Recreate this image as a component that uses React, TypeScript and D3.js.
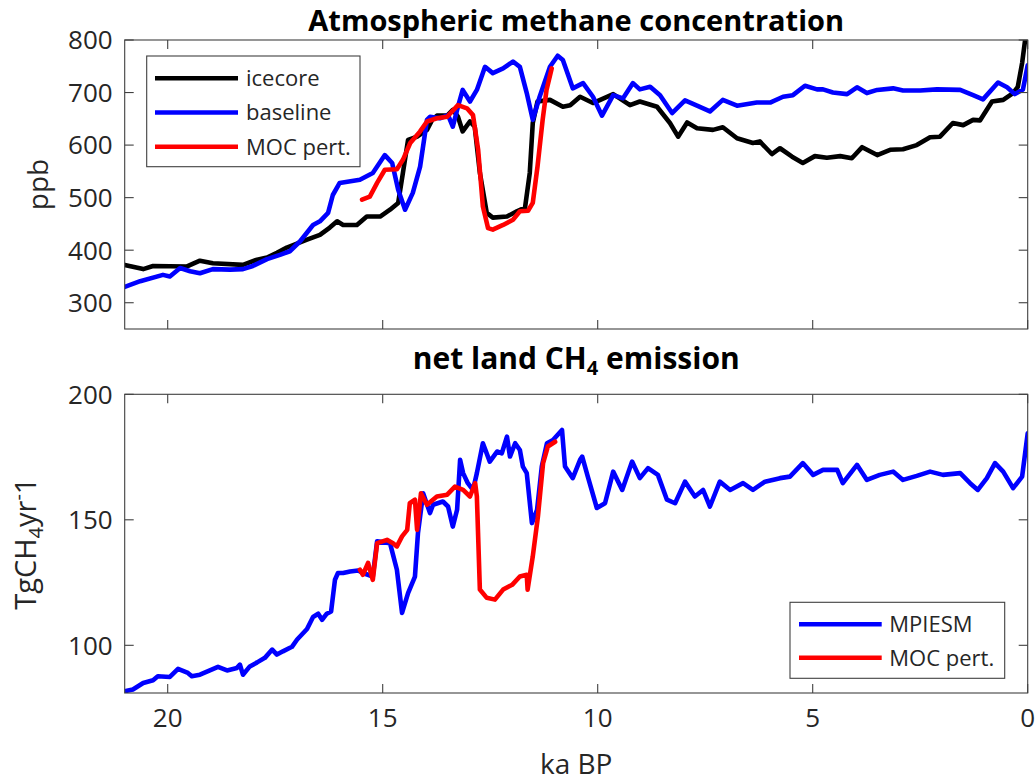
import React from 'react';
import * as d3 from 'd3';

// ---------- data (ka BP, values) ----------
const icecoreKa = [21.0, 20.57, 20.34, 19.55, 19.25, 18.95, 18.25, 17.92, 17.69, 17.46, 17.23, 16.76, 16.46, 16.23, 16.06, 15.92, 15.6, 15.37, 15.06, 14.83, 14.64, 14.53, 14.41, 14.2, 13.97, 13.85, 13.74, 13.5, 13.37, 13.25, 13.14, 12.97, 12.86, 12.74, 12.58, 12.44, 12.11, 11.88, 11.69, 11.58, 11.51, 11.4, 11.11, 10.81, 10.64, 10.41, 10.11, 9.64, 9.25, 9.02, 8.62, 8.32, 8.13, 7.92, 7.69, 7.32, 7.09, 6.76, 6.39, 6.23, 5.95, 5.76, 5.48, 5.23, 4.95, 4.67, 4.36, 4.09, 3.85, 3.5, 3.2, 2.9, 2.58, 2.27, 2.04, 1.74, 1.5, 1.27, 1.11, 0.83, 0.57, 0.34, 0.23, 0.13, 0.06, 0.0];
const icecorePpb = [372, 364, 370, 369, 380, 375, 372, 382, 386, 395, 405, 420, 429, 443, 455, 448, 448, 464, 464, 477, 490, 547, 610, 616, 629, 648, 656, 656, 667, 654, 626, 645, 635, 547, 471, 462, 464, 474, 481, 547, 642, 683, 686, 673, 676, 692, 680, 697, 676, 683, 673, 642, 616, 643, 632, 629, 634, 613, 604, 607, 583, 594, 578, 566, 579, 576, 579, 575, 596, 581, 591, 592, 600, 615, 616, 642, 638, 648, 647, 683, 686, 699, 711, 756, 800, 850];

const baselineKa = [21.0, 20.64, 20.11, 19.95, 19.71, 19.48, 19.25, 18.95, 18.55, 18.25, 18.02, 17.69, 17.39, 17.16, 16.92, 16.62, 16.46, 16.27, 16.16, 16.0, 15.53, 15.23, 14.95, 14.78, 14.64, 14.48, 14.3, 14.13, 13.97, 13.9, 13.67, 13.48, 13.37, 13.25, 13.14, 12.97, 12.81, 12.62, 12.44, 12.2, 11.97, 11.81, 11.65, 11.51, 11.35, 11.11, 10.93, 10.81, 10.58, 10.34, 10.11, 9.9, 9.64, 9.41, 9.18, 9.02, 8.78, 8.55, 8.27, 7.97, 7.69, 7.39, 7.09, 6.76, 6.3, 5.99, 5.69, 5.46, 5.18, 4.9, 4.76, 4.53, 4.2, 3.97, 3.74, 3.5, 3.13, 2.9, 2.5, 2.11, 1.57, 1.27, 1.04, 0.69, 0.48, 0.3, 0.11, 0.0];
const baselinePpb = [330, 341, 353, 350, 366, 360, 356, 364, 363, 364, 370, 383, 391, 398, 417, 448, 455, 471, 505, 528, 534, 547, 581, 566, 515, 477, 509, 559, 648, 654, 651, 657, 635, 673, 705, 683, 705, 749, 737, 746, 759, 749, 699, 648, 692, 749, 770, 762, 708, 718, 692, 656, 695, 689, 718, 706, 711, 695, 661, 685, 675, 664, 686, 675, 681, 681, 692, 695, 713, 706, 706, 700, 697, 710, 699, 705, 708, 704, 704, 706, 705, 695, 687, 719, 710, 697, 706, 752];

const mocTopKa = [15.48, 15.3, 15.13, 14.95, 14.67, 14.53, 14.36, 14.13, 13.97, 13.74, 13.5, 13.25, 13.04, 12.9, 12.78, 12.67, 12.55, 12.44, 12.2, 11.97, 11.81, 11.62, 11.51, 11.4, 11.28, 11.19, 11.07];
const mocTopPpb = [496, 502, 528, 553, 554, 572, 604, 626, 645, 651, 654, 676, 670, 657, 591, 483, 442, 439, 448, 458, 474, 475, 490, 559, 648, 705, 746];

const mpiKa = [21.0, 20.81, 20.57, 20.34, 20.23, 19.95, 19.76, 19.53, 19.44, 19.25, 19.02, 18.83, 18.62, 18.39, 18.32, 18.25, 18.09, 17.92, 17.74, 17.57, 17.46, 17.32, 17.11, 16.99, 16.88, 16.76, 16.62, 16.5, 16.41, 16.3, 16.2, 16.11, 16.04, 15.92, 15.76, 15.57, 15.46, 15.23, 15.13, 14.83, 14.67, 14.55, 14.41, 14.25, 14.18, 14.06, 13.9, 13.83, 13.6, 13.48, 13.37, 13.27, 13.2, 13.13, 13.02, 12.9, 12.81, 12.67, 12.51, 12.34, 12.23, 12.11, 12.04, 11.92, 11.81, 11.74, 11.65, 11.53, 11.41, 11.3, 11.18, 11.04, 10.83, 10.76, 10.58, 10.41, 10.36, 10.23, 10.02, 9.83, 9.64, 9.43, 9.2, 9.02, 8.83, 8.6, 8.39, 8.2, 7.97, 7.74, 7.55, 7.39, 7.16, 6.92, 6.62, 6.39, 6.11, 5.76, 5.53, 5.23, 4.99, 4.76, 4.43, 4.3, 3.97, 3.74, 3.44, 3.13, 2.9, 2.58, 2.27, 1.97, 1.57, 1.34, 1.16, 0.95, 0.76, 0.57, 0.34, 0.13, 0.0];
const mpiVal = [81.7, 82.4, 85.0, 86.1, 87.7, 87.4, 90.6, 89.0, 87.7, 88.3, 90.0, 91.4, 90.0, 91.0, 92.3, 88.3, 91.6, 93.2, 95.0, 98.3, 96.3, 97.6, 99.4, 102.3, 104.3, 106.5, 111.3, 112.6, 110.2, 112.6, 113.5, 126.1, 128.8, 128.8, 129.4, 129.8, 128.8, 127.4, 141.4, 140.7, 130.1, 112.9, 120.8, 127.4, 144.7, 160.6, 152.7, 156.0, 157.3, 155.3, 147.3, 154.0, 173.9, 168.6, 164.6, 161.9, 168.6, 180.5, 173.2, 177.2, 176.5, 183.1, 175.2, 180.5, 177.8, 171.2, 168.6, 148.7, 154.0, 171.2, 180.5, 181.8, 185.8, 171.2, 166.6, 173.9, 175.2, 167.2, 154.7, 156.6, 169.2, 161.9, 173.2, 166.6, 170.6, 167.9, 158.0, 156.6, 165.2, 159.3, 161.9, 155.3, 165.2, 161.9, 164.6, 161.9, 165.2, 166.6, 167.2, 172.6, 167.9, 169.9, 169.9, 164.6, 171.9, 165.9, 167.9, 169.2, 165.9, 167.5, 169.2, 167.9, 168.6, 164.6, 161.9, 166.6, 172.6, 169.2, 162.6, 167.2, 184.5];

const mocBotKa = [15.53, 15.46, 15.34, 15.23, 15.13, 14.9, 14.76, 14.67, 14.55, 14.43, 14.37, 14.25, 14.2, 14.11, 13.97, 13.74, 13.5, 13.32, 13.13, 12.97, 12.85, 12.81, 12.74, 12.58, 12.39, 12.2, 11.99, 11.81, 11.65, 11.63, 11.51, 11.39, 11.27, 11.16, 10.99];
const mocBotVal = [130.1, 128.1, 132.8, 126.1, 140.7, 142.0, 140.7, 139.4, 143.4, 146.0, 156.6, 158.0, 146.0, 160.6, 156.0, 159.3, 160.0, 163.2, 161.9, 159.3, 164.6, 159.3, 122.2, 118.9, 118.2, 122.2, 124.1, 127.4, 128.1, 122.2, 135.4, 151.3, 172.6, 179.2, 181.1];

const xTicks = [20, 15, 10, 5, 0];
const topYTicks = [300, 400, 500, 600, 700, 800];
const botYTicks = [100, 150, 200];
const topLegend = ['icecore', 'baseline', 'MOC pert.'];
const botLegend = ['MPIESM', 'MOC pert.'];

const FONT = '"Open Sans", "Noto Sans", sans-serif';
const TXT = '#262626';
const AX = '#404040';

export default function App() {
  const W = 1035, H = 783;
  const L = 124.7, R = 1027.7;
  const topP = { t: 40, b: 329 };
  const botP = { t: 394.3, b: 693 };
  const x = d3.scaleLinear().domain([21, 0]).range([L, R]);
  const yT = d3.scaleLinear().domain([250, 800]).range([topP.b, topP.t]);
  const yB = d3.scaleLinear().domain([81, 200]).range([botP.b, botP.t]);

  const mk = (xs: number[], ys: number[], y: d3.ScaleLinear<number, number>) =>
    d3.line<number>().x((d) => x(d)).y((_, i) => y(ys[i]))(xs) || '';

  const tl = 9;
  const LW = 4.6;

  const frame = (p: { t: number; b: number }, y: d3.ScaleLinear<number, number>, yt: number[], key: string) => (
    <g key={key}>
      <rect x={L} y={p.t} width={R - L} height={p.b - p.t} fill="none" stroke={AX} strokeWidth={1.1} />
      {xTicks.map((t) => (
        <g key={'x' + t}>
          <line x1={x(t)} x2={x(t)} y1={p.b} y2={p.b - tl} stroke={AX} strokeWidth={1.1} />
          <line x1={x(t)} x2={x(t)} y1={p.t} y2={p.t + tl} stroke={AX} strokeWidth={1.1} />
        </g>
      ))}
      {yt.map((t) => (
        <g key={'y' + t}>
          <line x1={L} x2={L + tl} y1={y(t)} y2={y(t)} stroke={AX} strokeWidth={1.1} />
          <line x1={R} x2={R - tl} y1={y(t)} y2={y(t)} stroke={AX} strokeWidth={1.1} />
          <text x={L - 12} y={y(t)} dy="0.36em" textAnchor="end" fontSize={26} fill={TXT} fontFamily={FONT}>{t}</text>
        </g>
      ))}
    </g>
  );

  return (
    <svg width={W} height={H} style={{ position: 'absolute', left: 0, top: 0, background: '#fff' }} fontFamily={FONT}>
      <defs>
        <clipPath id="cTop"><rect x={L} y={topP.t} width={R - L} height={topP.b - topP.t} /></clipPath>
        <clipPath id="cBot"><rect x={L} y={botP.t} width={R - L} height={botP.b - botP.t} /></clipPath>
      </defs>
      <rect x={0} y={0} width={W} height={H} fill="#fff" />

      {/* Top panel */}
      <g clipPath="url(#cTop)" fill="none" strokeWidth={LW} strokeLinejoin="round" strokeLinecap="round">
        <path d={mk(icecoreKa, icecorePpb, yT)} stroke="#000" />
        <path d={mk(baselineKa, baselinePpb, yT)} stroke="#0000ff" />
        <path d={mk(mocTopKa, mocTopPpb, yT)} stroke="#ff0000" />
      </g>
      {frame(topP, yT, topYTicks, 'ft')}
      <text x={(L + R) / 2} y={31} textAnchor="middle" fontSize={29} fontWeight="bold" fill="#000">Atmospheric methane concentration</text>
      <text transform={`translate(48,${(topP.t + topP.b) / 2}) rotate(-90)`} textAnchor="middle" fontSize={28} fill={TXT}>ppb</text>

      {/* top legend */}
      <g>
        <rect x={146.7} y={56} width={213.3} height={110.7} fill="#fff" stroke={AX} strokeWidth={1.1} />
        {topLegend.map((name, i) => (
          <g key={name}>
            <line x1={155} x2={238} y1={78.3 + i * 34.2} y2={78.3 + i * 34.2} stroke={['#000', '#0000ff', '#ff0000'][i]} strokeWidth={LW} />
            <text x={246} y={78.3 + i * 34.2} dy="0.36em" fontSize={22} fill={TXT}>{name}</text>
          </g>
        ))}
      </g>

      {/* Bottom panel */}
      <g clipPath="url(#cBot)" fill="none" strokeWidth={LW} strokeLinejoin="round" strokeLinecap="round">
        <path d={mk(mpiKa, mpiVal, yB)} stroke="#0000ff" />
        <path d={mk(mocBotKa, mocBotVal, yB)} stroke="#ff0000" />
      </g>
      {frame(botP, yB, botYTicks, 'fb')}
      {xTicks.map((t) => (
        <text key={'xl' + t} x={x(t)} y={727} textAnchor="middle" fontSize={26} fill={TXT}>{t}</text>
      ))}
      <text x={(L + R) / 2} y={774} textAnchor="middle" fontSize={28} fill={TXT}>ka BP</text>
      <text x={(L + R) / 2} y={369} textAnchor="middle" fontSize={30} fontWeight="bold" fill="#000">
        net land CH<tspan fontSize={20} dy={6}>4</tspan><tspan dy={-6}> emission</tspan>
      </text>
      <text transform={`translate(36,${(botP.t + botP.b) / 2}) rotate(-90)`} textAnchor="middle" fontSize={29} fill={TXT}>
        TgCH<tspan fontSize={20} dy={7}>4</tspan><tspan dy={-7}>yr</tspan><tspan fontSize={20} dy={-11}>-</tspan><tspan dy={11}>1</tspan>
      </text>

      {/* bottom legend */}
      <g>
        <rect x={790} y={602.3} width={214.7} height={76} fill="#fff" stroke={AX} strokeWidth={1.1} />
        {botLegend.map((name, i) => (
          <g key={name}>
            <line x1={799} x2={881.7} y1={624.3 + i * 33.4} y2={624.3 + i * 33.4} stroke={['#0000ff', '#ff0000'][i]} strokeWidth={LW} />
            <text x={889.3} y={624.3 + i * 33.4} dy="0.36em" fontSize={22} fill={TXT}>{name}</text>
          </g>
        ))}
      </g>
    </svg>
  );
}
